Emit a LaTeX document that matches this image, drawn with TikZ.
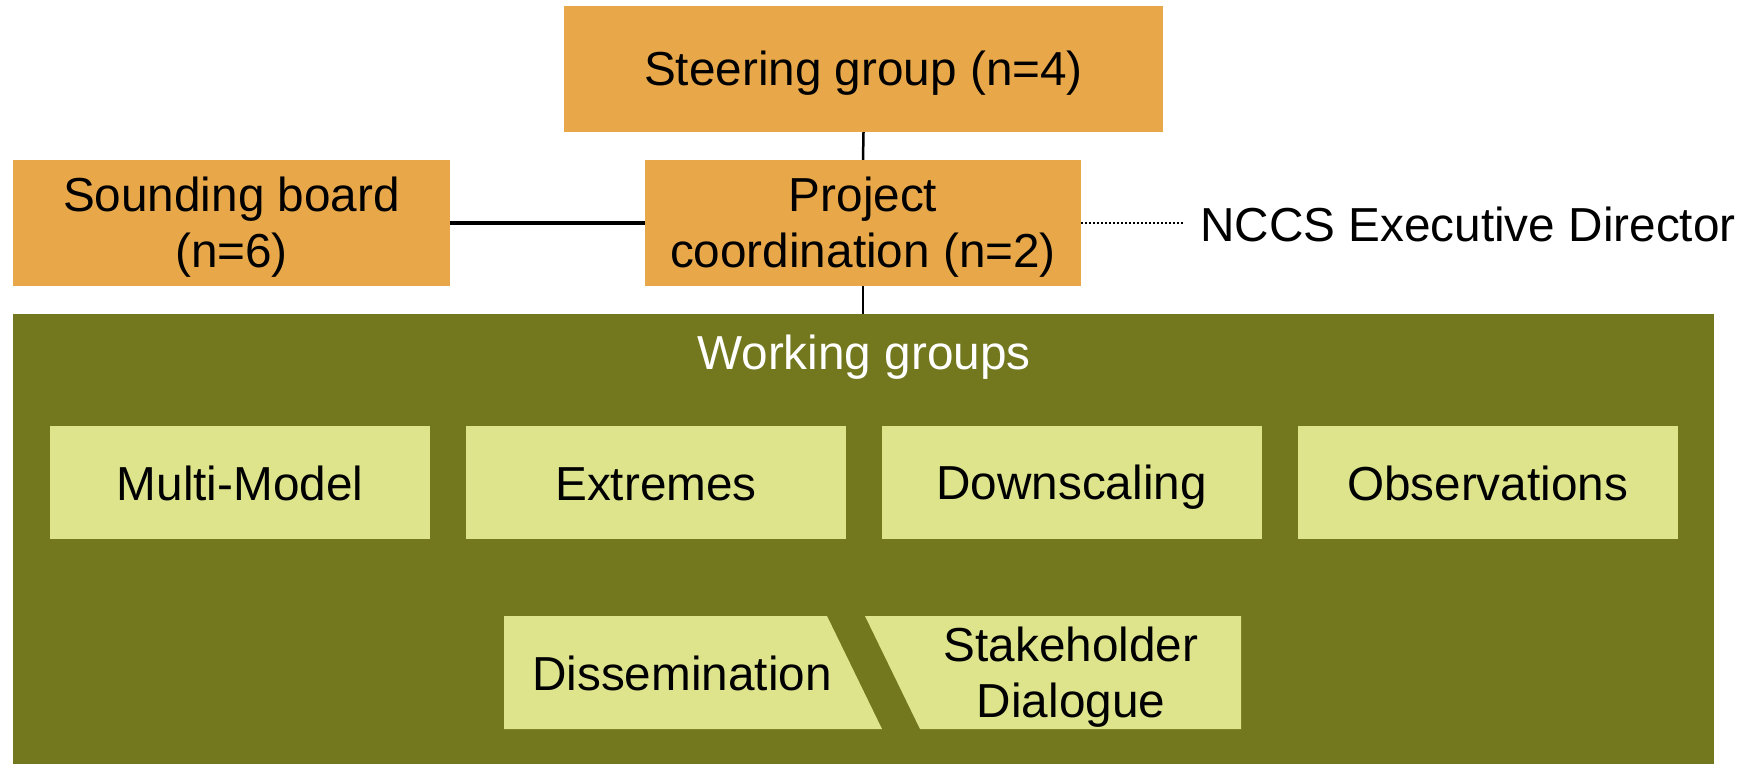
\documentclass[tikz,border=0pt]{standalone}
\usepackage{fontspec}
\setmainfont{Liberation Sans}
\definecolor{orangebox}{RGB}{232,168,74}
\definecolor{olivebg}{RGB}{115,120,30}
\definecolor{lightbox}{RGB}{222,228,140}
\newcommand{\tstrut}{\rule{0pt}{43.5pt}}
\newcommand{\bstrut}{\rule[-7.5pt]{0pt}{7.5pt}}
\begin{document}
\begin{tikzpicture}[x=1pt,y=-1pt,
  txt/.style={font=\fontsize{47.7}{56}\selectfont, align=center, inner sep=0pt},
  orangenode/.style={txt, fill=orangebox, minimum height=126pt},
  wgbox/.style={txt, fill=lightbox, minimum width=380pt, minimum height=113pt},
  link/.style={line width=2.5pt, black}]
\useasboundingbox (0,0) rectangle (1750,764);
\node[fill=olivebg, minimum width=1701pt, minimum height=450pt, inner sep=0pt] (wg) at (863.5,539) {};
\node[orangenode, minimum width=599pt] (steer) at (863.5,69) {\tstrut Steering group (n=4)\bstrut};
\node[orangenode, minimum width=437pt] (sound) at (231.5,223) {\tstrut Sounding board\\(n=6)\bstrut};
\node[orangenode, minimum width=436pt] (proj) at (863,223) {\tstrut Project\\coordination (n=2)\bstrut};
\node[txt, anchor=west, inner xsep=17pt] (ncc) at (1183,223) {\tstrut NCCS Executive Director\bstrut};
\node[txt, text=white] (wgt) at (864,353) {\tstrut Working groups\bstrut};
\node[wgbox] (mm) at (240,482.5) {\tstrut Multi-Model\bstrut};
\node[wgbox] (ex) at (656,482.5) {\tstrut Extremes\bstrut};
\node[wgbox] (ds) at (1071.5,482.5) {\tstrut Downscaling\bstrut};
\node[wgbox] (ob) at (1487.5,482.5) {\tstrut Observations\bstrut};
\fill[lightbox] (504,616) -- (827,616) -- (882,729) -- (504,729) -- cycle;
\fill[lightbox] (865,616) -- (1241,616) -- (1241,729) -- (920,729) -- cycle;
\node[txt] (diss) at (682,672) {\tstrut Dissemination\bstrut};
\node[txt] (stake) at (1071,673) {\tstrut Stakeholder\\Dialogue\bstrut};
\draw[link] (steer.south) -- (proj.north);
\draw[link, line width=4pt] (sound.east) -- (proj.west);
\draw[link] (proj.south) -- (wg.north -| proj.south);
\draw[line width=2.5pt, dash pattern=on 2pt off 2pt] (proj.east) -- ([xshift=2pt]ncc.west);
\end{tikzpicture}
\end{document}
